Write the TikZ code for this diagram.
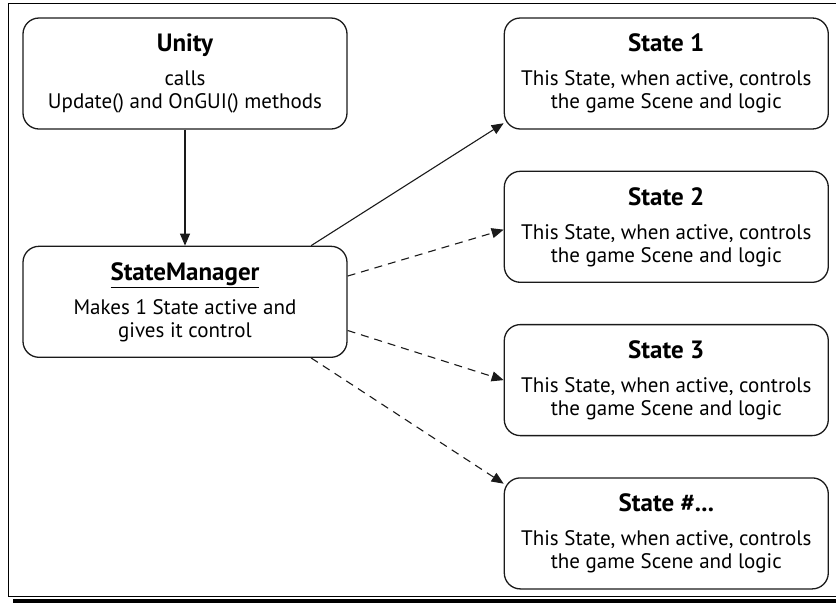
\documentclass[tikz,border=0pt]{standalone}
\usepackage{fontspec}
\setmainfont{PT Sans}
\usetikzlibrary{positioning,arrows.meta}
\definecolor{ink}{HTML}{1A1A1A}
\newcommand{\boxtitle}[1]{{\fontsize{25}{28}\selectfont\bfseries #1}}

\begin{document}
\begin{tikzpicture}[x=1pt,y=-1pt,
    box/.style={draw=ink,line width=1.3pt,rounded corners=16pt,minimum width=324pt,minimum height=111pt,align=center,inner sep=0pt,font=\fontsize{21}{23}\selectfont},
    link/.style={-{Triangle[length=12pt,width=10pt]},line width=1.1pt,draw=ink},
    weak/.style={link,dash pattern=on 8pt off 6pt}]
  \useasboundingbox (0,0) rectangle (836,603);
  % frame with shadow
  \draw[line width=1.3pt] (8,3.5) -- (836,3.5);
  \draw[line width=1pt] (8,3.5) -- (8,596) -- (836,596);
  \fill[black] (12.5,598.5) rectangle (836,603);
  \node[box] (unity) at (185,73.5) {\boxtitle{Unity}\\[11pt]calls\\Update() and OnGUI() methods};
  \node[box,below=116pt of unity] (mgr) {\boxtitle{\underline{StateManager}}\\[11pt]Makes 1 State active and\\gives it control};
  \node[box,right=156pt of unity] (s1) {\boxtitle{State 1}\\[11pt]This State, when active, controls\\the game Scene and logic};
  \node[box,below=41pt of s1] (s2) {\boxtitle{State 2}\\[11pt]This State, when active, controls\\the game Scene and logic};
  \node[box,below=41pt of s2] (s3) {\boxtitle{State 3}\\[11pt]This State, when active, controls\\the game Scene and logic};
  \node[box,below=41pt of s3] (s4) {\boxtitle{State \#...}\\[11pt]This State, when active, controls\\the game Scene and logic};
  \draw[link] (unity) -- (mgr);
  \draw[link] (mgr.24) -- (s1.197);
  \draw[weak] (mgr.9) -- (s2.181);
  \draw[weak] (mgr.350) -- (s3.west);
  \draw[weak] (mgr.336) -- (s4.163);
\end{tikzpicture}
\end{document}
